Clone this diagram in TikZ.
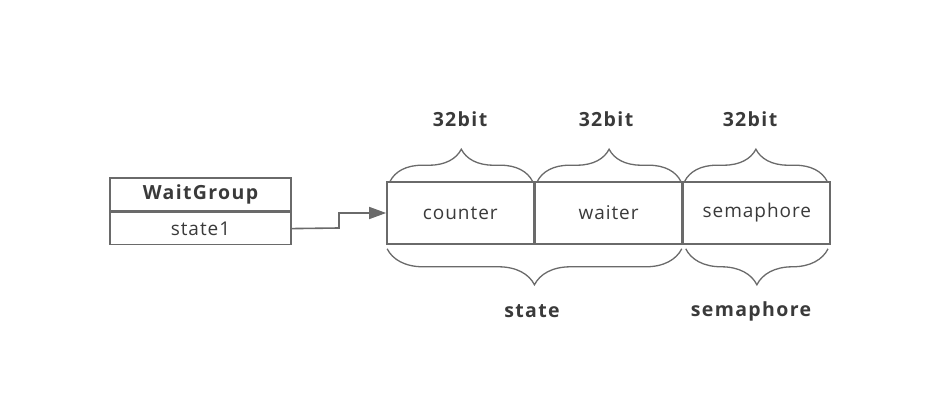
\documentclass[tikz,border=0pt]{standalone}
\usepackage{fontspec}
\setmainfont{Open Sans}
\newfontfamily\regsp{Open Sans}[LetterSpace=5]
\newfontfamily\boldsp{Open Sans Bold}[LetterSpace=7]
\usetikzlibrary{arrows.meta,decorations.pathreplacing,calc}
\definecolor{linecol}{HTML}{6A6A6A}
\definecolor{txtcol}{HTML}{3A3A3A}
\begin{document}
\begin{tikzpicture}[x=1pt,y=-1pt,
  cell/.style={draw=linecol,line width=1.6pt,minimum height=62pt,minimum width=146.7pt,inner sep=0pt,
    text=txtcol,font=\regsp\fontsize{19}{22}\selectfont},
  wgbox/.style={draw=linecol,line width=1.6pt,minimum width=181pt,inner sep=0pt,text=txtcol},
  lbl/.style={text=txtcol,font=\boldsp\fontsize{19.5}{22}\selectfont},
  bracetop/.style={decorate,draw=linecol,line width=1.3pt,decoration={brace,amplitude=32pt}},
  bracebot/.style={decorate,draw=linecol,line width=1.3pt,decoration={brace,amplitude=36pt,mirror}},
  conn/.style={draw=linecol,line width=1.6pt,-{Triangle[length=17pt,width=12pt]}}]
\useasboundingbox (0,0) rectangle (946,411);
% WaitGroup
\node[wgbox,minimum height=33pt,font=\boldsp\fontsize{19.5}{22}\selectfont] (wg) at (200.5,194.5) {WaitGroup};
\node[wgbox,minimum height=32pt,font=\regsp\fontsize{19}{22}\selectfont,anchor=north] (st) at (wg.south) {state1};
% cells
\node[cell] (c1) at (460.3,213) {counter};
\node[cell,anchor=west] (c2) at (c1.east) {waiter};
\node[cell,anchor=west] (c3) at (c2.east) {semaphore};
% arrow
\coordinate (m1) at (339,228);
\coordinate (m2) at (339,213);
\draw[conn] (st.east) -- (m1) -- (m2) -- (c1.west);
% top braces
\draw[bracetop] ([xshift=4pt]c1.north west) -- ([xshift=-2pt]c1.north east);
\draw[bracetop] ([xshift=3pt]c2.north west) -- ([xshift=-2pt]c2.north east);
\draw[bracetop] ([xshift=2pt]c3.north west) -- ([xshift=-4pt]c3.north east);
\node[lbl] (b1) at (460,119) {32bit};
\node[lbl] (b2) at (606,119) {32bit};
\node[lbl] (b3) at (750,119) {32bit};
% bottom braces
\draw[bracebot] ([shift={(1pt,-4pt)}]c1.south west) -- ([shift={(-1pt,-4pt)}]c2.south east);
\draw[bracebot] ([shift={(3pt,-4pt)}]c3.south west) -- ([shift={(-3pt,-4pt)}]c3.south east);
\node[lbl] (s1) at (532,311) {state};
\node[lbl] (s2) at (751,311) {semaphore};
\end{tikzpicture}
\end{document}
